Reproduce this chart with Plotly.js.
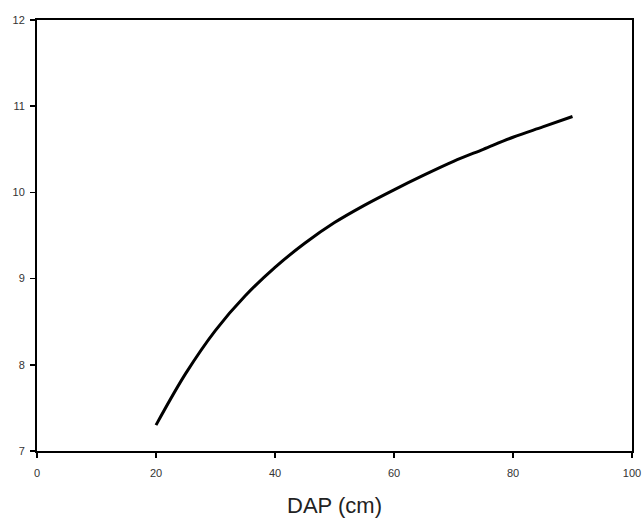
<!DOCTYPE html>
<html><head><meta charset="utf-8">
<script src="https://cdn.plot.ly/plotly-3.0.1.min.js"></script>
<style>html,body{margin:0;padding:0;background:#fff}#chart{width:644px;height:518px}</style>
</head><body><div id="chart"></div>
<script>
const dap = [20, 25, 30, 35, 40, 45, 50, 55, 60, 65, 70, 75, 80, 85, 90];
const values = [7.3, 7.9, 8.4, 8.8, 9.13, 9.41, 9.65, 9.85, 10.03, 10.2, 10.36, 10.5, 10.64, 10.76, 10.88];
const xTicks = [0, 20, 40, 60, 80, 100];
const yTicks = [7, 8, 9, 10, 11, 12];
const xTitle = 'DAP (cm)';

Plotly.newPlot('chart', [{
  x: dap, y: values, type: 'scatter', mode: 'lines',
  line: {color: '#000', width: 3, shape: 'spline', smoothing: 1}, hoverinfo: 'none'
}], {
  width: 644, height: 518,
  margin: {l: 37, r: 12, t: 20, b: 67},
  paper_bgcolor: '#fff', plot_bgcolor: '#fff',
  showlegend: false,
  font: {family: 'Liberation Sans, Arial, sans-serif', color: '#333'},
  xaxis: {
    range: [0, 100], tickvals: xTicks, ticktext: xTicks.map(String),
    showgrid: false, zeroline: false, showline: true, linecolor: '#000', linewidth: 2,
    mirror: true, ticks: 'outside', ticklen: 5, tickwidth: 1.5, tickcolor: '#000',
    ticklabelstandoff: 6,
    tickfont: {size: 11, color: '#333'},
    title: {text: xTitle, font: {size: 22, color: '#222'}, standoff: 22}
  },
  yaxis: {
    range: [7, 12], tickvals: yTicks, ticktext: yTicks.map(String),
    showgrid: false, zeroline: false, showline: true, linecolor: '#000', linewidth: 2,
    mirror: true, ticks: 'outside', ticklen: 5, tickwidth: 1.5, tickcolor: '#000',
    ticklabelstandoff: 3,
    tickfont: {size: 11, color: '#333'}
  }
}, {displayModeBar: false, staticPlot: true});
</script></body></html>
